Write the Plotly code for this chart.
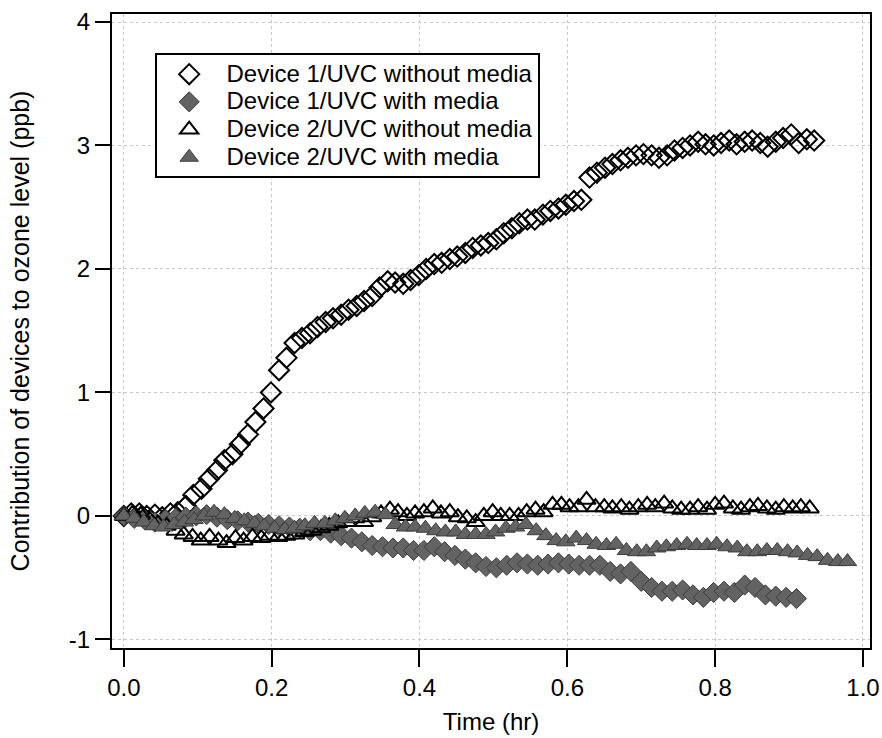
import plotly.graph_objects as go

# Time stamps (hr) and ozone contribution (ppb) for each device/UVC configuration
t_dev1_no_media = [
    0.000, 0.010, 0.021, 0.031, 0.042, 0.052, 0.063, 0.073, 0.084, 0.094,
    0.105, 0.115, 0.126, 0.136, 0.147, 0.157, 0.168, 0.178, 0.189, 0.199,
    0.210, 0.220, 0.231, 0.241, 0.252, 0.262, 0.273, 0.283, 0.294, 0.304,
    0.315, 0.325, 0.336, 0.346, 0.357, 0.367, 0.378, 0.388, 0.399, 0.409,
    0.420, 0.430, 0.441, 0.451, 0.462, 0.472, 0.483, 0.493, 0.504, 0.514,
    0.525, 0.535, 0.546, 0.556, 0.567, 0.577, 0.588, 0.598, 0.609, 0.619,
    0.630, 0.640, 0.651, 0.661, 0.672, 0.682, 0.693, 0.703, 0.714, 0.724,
    0.735, 0.745, 0.756, 0.766, 0.777, 0.787, 0.798, 0.808, 0.819, 0.829,
    0.840, 0.850, 0.861, 0.871, 0.882, 0.892, 0.903, 0.913, 0.924, 0.934,
]
o3_dev1_no_media = [
    0.00, 0.02, 0.02, 0.00, 0.01, -0.01, 0.02, 0.03, 0.08, 0.17,
    0.22, 0.30, 0.37, 0.45, 0.50, 0.58, 0.66, 0.76, 0.87, 1.00,
    1.18, 1.28, 1.40, 1.44, 1.48, 1.53, 1.57, 1.60, 1.63, 1.67,
    1.70, 1.74, 1.78, 1.85, 1.90, 1.89, 1.88, 1.91, 1.95, 2.00,
    2.04, 2.05, 2.08, 2.10, 2.13, 2.17, 2.19, 2.21, 2.24, 2.29,
    2.33, 2.37, 2.40, 2.40, 2.44, 2.47, 2.49, 2.52, 2.55, 2.56,
    2.74, 2.78, 2.82, 2.85, 2.88, 2.90, 2.92, 2.93, 2.92, 2.90,
    2.92, 2.96, 2.98, 3.00, 3.03, 3.01, 3.00, 3.02, 3.04, 3.01,
    3.03, 3.04, 3.02, 2.99, 3.03, 3.06, 3.09, 3.02, 3.05, 3.04,
]

t_dev1_media = [
    0.000, 0.014, 0.028, 0.042, 0.056, 0.070, 0.084, 0.098, 0.112, 0.126,
    0.140, 0.154, 0.168, 0.182, 0.196, 0.210, 0.224, 0.238, 0.252, 0.266,
    0.280, 0.294, 0.308, 0.322, 0.336, 0.350, 0.364, 0.378, 0.392, 0.406,
    0.420, 0.434, 0.448, 0.462, 0.476, 0.490, 0.504, 0.518, 0.532, 0.546,
    0.560, 0.574, 0.588, 0.602, 0.616, 0.630, 0.644, 0.658, 0.672, 0.686,
    0.700, 0.714, 0.728, 0.742, 0.756, 0.770, 0.784, 0.798, 0.812, 0.826,
    0.840, 0.854, 0.868, 0.882, 0.896, 0.910,
]
o3_dev1_media = [
    0.00, -0.02, -0.03, -0.05, -0.03, -0.02, -0.01, 0.00, 0.01, -0.01,
    -0.03, -0.04, -0.05, -0.06, -0.07, -0.08, -0.09, -0.10, -0.12, -0.12,
    -0.14, -0.16, -0.18, -0.21, -0.24, -0.25, -0.26, -0.26, -0.28, -0.28,
    -0.25, -0.29, -0.32, -0.35, -0.38, -0.41, -0.42, -0.40, -0.38, -0.39,
    -0.40, -0.39, -0.38, -0.39, -0.40, -0.40, -0.40, -0.45, -0.47, -0.45,
    -0.53, -0.58, -0.61, -0.61, -0.60, -0.64, -0.66, -0.62, -0.61, -0.62,
    -0.56, -0.58, -0.64, -0.65, -0.66, -0.67,
]

t_dev2_no_media = [
    0.000, 0.012, 0.023, 0.035, 0.046, 0.058, 0.070, 0.081, 0.093, 0.104,
    0.116, 0.128, 0.139, 0.151, 0.162, 0.174, 0.186, 0.197, 0.209, 0.220,
    0.232, 0.244, 0.255, 0.267, 0.278, 0.290, 0.302, 0.313, 0.325, 0.336,
    0.348, 0.360, 0.371, 0.383, 0.394, 0.406, 0.418, 0.429, 0.441, 0.452,
    0.464, 0.476, 0.487, 0.499, 0.510, 0.522, 0.534, 0.545, 0.557, 0.568,
    0.580, 0.592, 0.603, 0.615, 0.626, 0.638, 0.650, 0.661, 0.673, 0.684,
    0.696, 0.708, 0.719, 0.731, 0.742, 0.754, 0.766, 0.777, 0.789, 0.800,
    0.812, 0.824, 0.835, 0.847, 0.858, 0.870, 0.882, 0.893, 0.905, 0.916,
    0.928,
]
o3_dev2_no_media = [
    0.00, 0.02, 0.01, -0.03, -0.06, -0.08, -0.12, -0.15, -0.17, -0.20,
    -0.17, -0.20, -0.22, -0.18, -0.20, -0.17, -0.18, -0.16, -0.17, -0.16,
    -0.15, -0.13, -0.12, -0.10, -0.08, -0.06, -0.05, -0.02, -0.05, -0.01,
    0.02, 0.05, 0.03, 0.00, 0.02, 0.03, 0.06, 0.02, 0.03, -0.01,
    -0.02, -0.05, 0.00, 0.03, 0.00, 0.00, 0.00, 0.03, 0.05, 0.03,
    0.09, 0.09, 0.07, 0.07, 0.13, 0.07, 0.07, 0.06, 0.07, 0.05,
    0.07, 0.09, 0.07, 0.10, 0.06, 0.05, 0.05, 0.07, 0.05, 0.09,
    0.10, 0.06, 0.05, 0.07, 0.08, 0.06, 0.05, 0.07, 0.06, 0.07,
    0.06,
]

t_dev2_media = [
    0.000, 0.014, 0.027, 0.041, 0.054, 0.068, 0.082, 0.095, 0.109, 0.122,
    0.136, 0.150, 0.163, 0.177, 0.190, 0.204, 0.218, 0.231, 0.245, 0.258,
    0.272, 0.286, 0.299, 0.313, 0.326, 0.340, 0.354, 0.367, 0.381, 0.394,
    0.408, 0.422, 0.435, 0.449, 0.462, 0.476, 0.490, 0.503, 0.517, 0.530,
    0.544, 0.558, 0.571, 0.585, 0.598, 0.612, 0.626, 0.639, 0.653, 0.666,
    0.680, 0.694, 0.707, 0.721, 0.734, 0.748, 0.762, 0.775, 0.789, 0.802,
    0.816, 0.830, 0.843, 0.857, 0.870, 0.884, 0.898, 0.911, 0.925, 0.938,
    0.952, 0.966, 0.979,
]
o3_dev2_media = [
    0.00, -0.02, -0.05, -0.08, -0.09, -0.07, -0.05, -0.03, 0.00, 0.03,
    0.01, -0.02, -0.04, -0.06, -0.08, -0.10, -0.11, -0.10, -0.08, -0.06,
    -0.06, -0.04, -0.02, 0.00, 0.02, 0.03, 0.01, -0.07, -0.09, -0.09,
    -0.10, -0.12, -0.13, -0.13, -0.15, -0.15, -0.15, -0.13, -0.10, -0.09,
    -0.07, -0.12, -0.16, -0.20, -0.21, -0.18, -0.20, -0.23, -0.24, -0.23,
    -0.28, -0.29, -0.29, -0.26, -0.25, -0.24, -0.23, -0.24, -0.24, -0.23,
    -0.25, -0.26, -0.29, -0.29, -0.28, -0.28, -0.29, -0.30, -0.32, -0.33,
    -0.36, -0.37, -0.37,
]

series_names = [
    "Device 1/UVC without media",
    "Device 1/UVC with media",
    "Device 2/UVC without media",
    "Device 2/UVC with media",
]

x_tick_vals = [0.0, 0.2, 0.4, 0.6, 0.8, 1.0]
x_tick_text = ["0.0", "0.2", "0.4", "0.6", "0.8", "1.0"]
y_tick_vals = [-1, 0, 1, 2, 3, 4]
y_tick_text = ["-1", "0", "1", "2", "3", "4"]

FONT = "Liberation Sans, Arial, Helvetica, sans-serif"
GRAY_FILL = "#636363"
GRAY_EDGE = "#3c3c3c"


def legend_label(text):
    # bigger glyphs than the row spacing would normally allow
    return '&nbsp;<span style="font-size:24px">' + text + "</span>"


fig = go.Figure()

fig.add_trace(go.Scatter(
    x=t_dev1_no_media, y=o3_dev1_no_media, mode="markers",
    name=legend_label(series_names[0]),
    marker=dict(symbol="diamond-open", size=15.5, color="black",
                line=dict(width=2, color="black")),
))
fig.add_trace(go.Scatter(
    x=t_dev1_media, y=o3_dev1_media, mode="markers",
    name=legend_label(series_names[1]),
    marker=dict(symbol="diamond", size=15.5, color=GRAY_FILL,
                line=dict(width=1, color=GRAY_EDGE)),
))
fig.add_trace(go.Scatter(
    x=t_dev2_no_media, y=o3_dev2_no_media, mode="markers",
    name=legend_label(series_names[2]),
    marker=dict(symbol="triangle-up-open", size=16, color="black",
                line=dict(width=2, color="black")),
))
fig.add_trace(go.Scatter(
    x=t_dev2_media, y=o3_dev2_media, mode="markers",
    name=legend_label(series_names[3]),
    marker=dict(symbol="triangle-up", size=16, color=GRAY_FILL,
                line=dict(width=1, color=GRAY_EDGE)),
))

axis_common = dict(
    showline=True, linecolor="black", linewidth=2, mirror=True,
    ticks="outside", tickwidth=2, tickcolor="black",
    showgrid=True, gridcolor="#c8c8c8", gridwidth=1, griddash="dot",
    zeroline=False, automargin=False,
    tickfont=dict(family=FONT, size=24, color="black"),
)

fig.update_xaxes(
    range=[-0.016, 1.0095],
    tickvals=x_tick_vals, ticktext=x_tick_text, ticklen=17,
    title=dict(text="Time (hr)", font=dict(family=FONT, size=24, color="black"),
               standoff=13),
    **axis_common,
)
fig.update_yaxes(
    range=[-1.07, 4.065],
    tickvals=y_tick_vals, ticktext=y_tick_text, ticklen=15,
    title=dict(text="Contribution of devices to ozone level (ppb)",
               font=dict(family=FONT, size=25, color="black"), standoff=32),
    **axis_common,
)

fig.update_layout(
    width=882, height=738,
    margin=dict(l=112, r=12, t=14, b=90),
    paper_bgcolor="white", plot_bgcolor="white",
    font=dict(family=FONT, size=24, color="black"),
    showlegend=True,
    legend=dict(
        x=0.057, y=0.938, xanchor="left", yanchor="top",
        bgcolor="white", bordercolor="black", borderwidth=2,
        font=dict(family=FONT, size=19, color="black"),
        itemwidth=54,
    ),
)

fig.write_html("out.html")
